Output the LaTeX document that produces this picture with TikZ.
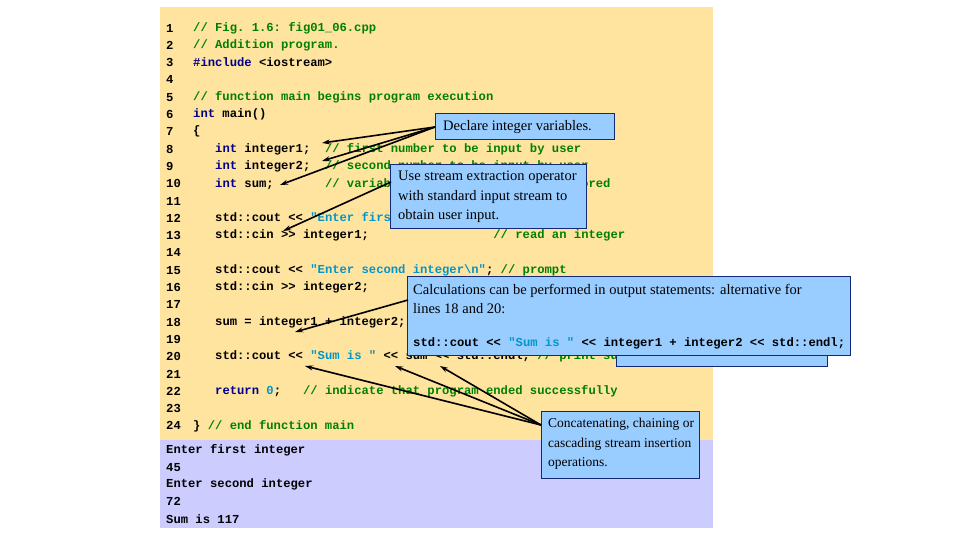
\documentclass[tikz,border=0pt]{standalone}
\usepackage{fontspec}
\setmainfont{Liberation Serif}
\setmonofont{Liberation Mono}
\usetikzlibrary{arrows.meta}
\definecolor{panel}{RGB}{255,228,160}
\definecolor{outp}{RGB}{204,204,255}
\definecolor{callf}{RGB}{153,204,255}
\definecolor{calld}{RGB}{20,40,120}
\definecolor{cmt}{RGB}{0,128,0}
\definecolor{kw}{RGB}{0,0,140}
\definecolor{str}{RGB}{0,150,200}
\newcommand{\Cm}[1]{\textcolor{cmt}{#1}}
\newcommand{\Kw}[1]{\textcolor{kw}{#1}}
\newcommand{\St}[1]{\textcolor{str}{#1}}
\tikzset{code/.style={anchor=west,inner sep=0,font=\ttfamily\bfseries\fontsize{12.2}{14}\selectfont},
 call/.style={draw=calld,fill=callf,line width=0.8pt,anchor=north west,align=left,inner sep=0},
 ctext/.style={anchor=west,align=left,inner sep=0,font=\fontsize{14.5}{19.3}\selectfont},
 arr/.style={-{Stealth[length=8pt,width=5pt]},line width=1.6pt}}
\begin{document}
\begin{tikzpicture}[x=1pt,y=-1pt]
\useasboundingbox (0,0) rectangle (960,540);
\fill[panel] (160,7) rectangle (713,440);
\fill[outp] (160,440) rectangle (713,528);
\foreach \i in {1,...,24}{\node[code] at (166,{28+(\i-1)*17.3}) {\i};}
\node[code] (l1) at (193,28.0) {\Cm{// Fig. 1.6: fig01\_06.cpp}};
\node[code] (l2) at (193,45.3) {\Cm{// Addition program.}};
\node[code] (l3) at (193,62.6) {\Kw{\#include} <iostream>};
\node[code] (l5) at (193,97.2) {\Cm{// function main begins program execution}};
\node[code] (l6) at (193,114.5) {\Kw{int} main()};
\node[code] (l7) at (193,131.8) {\{};
\node[code] (l8) at (215,149.1) {\Kw{int} integer1;\ \ \Cm{// first number to be input by user}};
\node[code] (l9) at (215,166.4) {\Kw{int} integer2;\ \ \Cm{// second number to be input by user}};
\node[code] (l10) at (215,183.7) {\Kw{int} sum;\ \ \ \ \ \ \ \Cm{// variable in which sum will be stored}};
\node[code] (l12) at (215,218.3) {std::cout << \St{"Enter first integer\textbackslash n"}; \Cm{// prompt}};
\node[code] (l13) at (215,235.6) {std::cin >> integer1;\ \ \ \ \ \ \ \ \ \ \ \ \ \ \ \ \ \Cm{// read an integer}};
\node[code] (l15) at (215,270.2) {std::cout << \St{"Enter second integer\textbackslash n"}; \Cm{// prompt}};
\node[code] (l16) at (215,287.5) {std::cin >> integer2;};
\node[code] (l18) at (215,322.1) {sum = integer1 + integer2;};
\node[code] (l20) at (215,356.7) {std::cout << \St{"Sum is "} << sum << std::endl; \Cm{// print sum}};
\node[code] (l22) at (215,391.3) {\Kw{return} \St{0};\ \ \ \Cm{// indicate that program ended successfully}};
\node[code] (l24) at (193,426.0) {\} \Cm{// end function main}};
\node[code] (o1) at (166,450) {Enter first integer};
\node[code] (o2) at (166,467.3) {45};
\node[code] (o3) at (166,484.6) {Enter second integer};
\node[code] (o4) at (166,501.9) {72};
\node[code] (o5) at (166,519.2) {Sum is 117};
% hidden callout
\draw[call] (616,330) rectangle (827,366);
% callouts
\draw[call] (435,113) rectangle (614,139);
\node[ctext] (c1) at (443,127) {Declare integer variables.};
\coordinate (c1a) at (435,127);
\draw[call] (390,164) rectangle (586,228);
\node[ctext] (c2) at (398,197) {Use stream extraction operator\\with standard input stream to\\obtain user input.};
\coordinate (c2a) at (391,182);
\draw[call] (407,276) rectangle (850,355);
\node[ctext] (c3) at (413,299) {Calculations can be performed in output statements: alternative for\\lines 18 and 20:};
\node[code] (c3b) at (413,343) {std::cout << \St{"Sum is "} << integer1 + integer2 << std::endl;};
\coordinate (c3a) at (408,300);
\draw[call] (541,411) rectangle (699,478);
\node[ctext,font=\fontsize{13.5}{19.3}\selectfont] (c4) at (548,444) {Concatenating, chaining or\\cascading stream insertion\\operations.};
\coordinate (c4a) at (541,425);
% targets
\coordinate (t1) at (322,143); \coordinate (t2) at (322,161); \coordinate (t3) at (280,185);
\coordinate (t4) at (283,231); \coordinate (t5) at (295,332);
\coordinate (t6) at (305,366); \coordinate (t7) at (395,366); \coordinate (t8) at (440,366);
\foreach \t in {t1,t2,t3} \draw[arr] (c1a) -- (\t);
\draw[arr] (c2a) -- (t4);
\draw[arr] (c3a) -- (t5);
\foreach \t in {t6,t7,t8} \draw[arr] (c4a) -- (\t);
\end{tikzpicture}
\end{document}
